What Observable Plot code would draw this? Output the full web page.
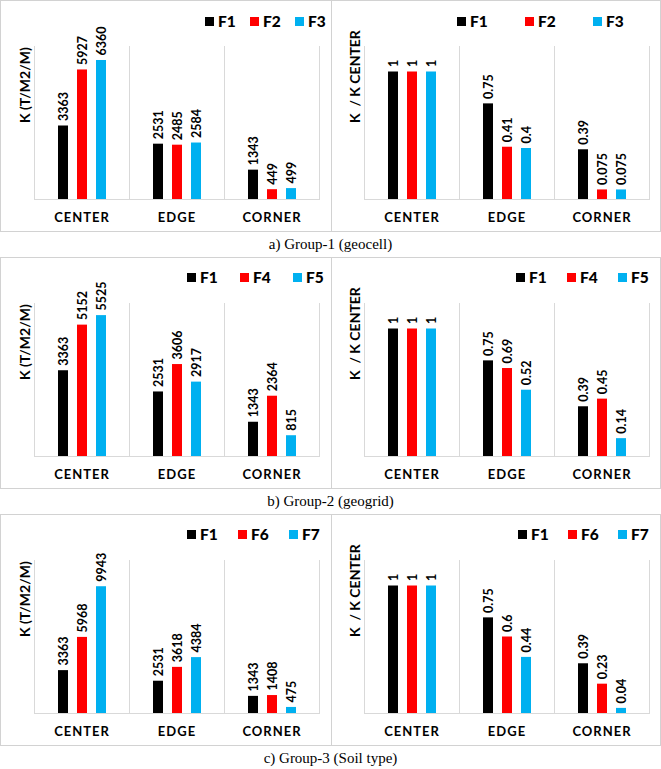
<!DOCTYPE html>
<html><head><meta charset="utf-8">
<script src="https://cdn.jsdelivr.net/npm/d3@7"></script>
<script src="https://cdn.jsdelivr.net/npm/@observablehq/plot@0.6"></script>
<style>
body{margin:0;background:#fff;width:661px;height:769px;position:relative;overflow:hidden;font-family:Lato,sans-serif}
.row{position:absolute;left:0;width:659px;height:230px;border:1px solid #d2d2d2}
.panel{position:absolute;top:0;height:230px}
.divider{position:absolute;left:330px;top:0;width:1px;height:230px;background:#d2d2d2}
.caption{position:absolute;left:0;width:661px;height:25px;line-height:25px;text-align:center;font-family:"Liberation Serif",serif;font-size:15px;color:#000}
.legend{position:absolute;display:flex;align-items:center;font-family:Lato,sans-serif;font-weight:900;font-size:15.5px;color:#000}
.legend .item{display:flex;align-items:center}
.legend .sw{width:9px;height:9px;margin-right:4px}
svg [aria-label="fx-axis tick label"] text{letter-spacing:1px}
</style>
</head><body>
<script>
const positions = ["CENTER", "EDGE", "CORNER"];
const colors = ["#000000", "#ff0000", "#00b0f0"];
const captions = ["a) Group-1 (geocell)", "b) Group-2 (geogrid)", "c) Group-3 (Soil type)"];
const yLabels = ["K (T/M2/M)", "K\u00a0 / K CENTER"];

const group1Series = ["F1", "F2", "F3"];
const group1K = [[3363, 2531, 1343], [5927, 2485, 449], [6360, 2584, 499]];
const group1Ratio = [[1, 0.75, 0.39], [1, 0.41, 0.075], [1, 0.4, 0.075]];

const group2Series = ["F1", "F4", "F5"];
const group2K = [[3363, 2531, 1343], [5152, 3606, 2364], [5525, 2917, 815]];
const group2Ratio = [[1, 0.75, 0.39], [1, 0.69, 0.45], [1, 0.52, 0.14]];

const group3Series = ["F1", "F6", "F7"];
const group3K = [[3363, 2531, 1343], [5968, 3618, 1408], [9943, 4384, 475]];
const group3Ratio = [[1, 0.75, 0.39], [1, 0.6, 0.23], [1, 0.44, 0.04]];

const kAxisMax = [7000, 6000, 12000];
const ratioAxisMax = 1.2;

const groups = [
  {series: group1Series, k: group1K, ratio: group1Ratio},
  {series: group2Series, k: group2K, ratio: group2Ratio},
  {series: group3Series, k: group3K, ratio: group3Ratio}
];

// layout (positions only)
const rowTops = [0, 257, 514];
const legendLayout = [
  [{left: 204, top: 20, step: 45}, {left: 125, top: 20, step: 68}],
  [{left: 186, top: 19, step: 53}, {left: 184, top: 19, step: 51}],
  [{left: 186, top: 19, step: 51}, {left: 186, top: 19, step: 50}]
];

function chart(series, values, yMax, yLabel, width, mLeft, mRight) {
  const data = [];
  series.forEach((s, i) => positions.forEach((p, j) => data.push({pos: p, series: s, value: values[i][j]})));
  return Plot.plot({
    width, height: 230, marginLeft: mLeft, marginRight: mRight, marginTop: 45, marginBottom: 32,
    fx: {domain: positions, paddingInner: 0, paddingOuter: 0, label: null},
    x: {domain: series, paddingInner: 0.475, paddingOuter: 1.1375, axis: null},
    y: {domain: [0, yMax], axis: null},
    color: {domain: series, range: colors},
    style: {fontFamily: "Lato, sans-serif", color: "#000", background: "transparent", overflow: "visible"},
    marks: [
      Plot.frame({anchor: "left", stroke: "#d9d9d9"}),
      Plot.frame({anchor: "right", stroke: "#d9d9d9"}),
      Plot.frame({anchor: "bottom", stroke: "#d9d9d9"}),
      Plot.barY(data, {fx: "pos", x: "series", y: "value", fill: "series"}),
      Plot.text(data, {fx: "pos", x: "series", y: "value", text: d => String(d.value), rotate: -90, textAnchor: "start", dy: -5, fontSize: 12.5, fontWeight: "bold", fill: "#000"}),
      Plot.text([{pos: positions[0]}], {fx: "pos", frameAnchor: "left", text: () => yLabel, rotate: -90, dx: -9, fontSize: 14, fontWeight: "bold", fill: "#000"}),
      Plot.axisFx({anchor: "bottom", tickSize: 0, tickPadding: 13, fontSize: 13, fontWeight: "bold", label: null})
    ]
  });
}

function legend(series, lay) {
  const div = document.createElement("div");
  div.className = "legend";
  div.style.left = lay.left + "px";
  div.style.top = lay.top + "px";
  series.forEach((s, i) => {
    const it = document.createElement("div");
    it.className = "item";
    it.style.position = "absolute";
    it.style.left = (i * lay.step) + "px";
    it.style.top = "-9px";
    it.innerHTML = `<span class="sw" style="background:${colors[i]}"></span><span>${s}</span>`;
    div.appendChild(it);
  });
  return div;
}

groups.forEach((g, r) => {
  const row = document.createElement("div");
  row.className = "row";
  row.style.top = rowTops[r] + "px";
  document.body.appendChild(row);

  const left = document.createElement("div");
  left.className = "panel"; left.style.left = "0px"; left.style.width = "330px";
  left.appendChild(chart(g.series, g.k, kAxisMax[r], yLabels[0], 330, 32, 11));
  left.appendChild(legend(g.series, legendLayout[r][0]));
  row.appendChild(left);

  const div = document.createElement("div");
  div.className = "divider";
  row.appendChild(div);

  const right = document.createElement("div");
  right.className = "panel"; right.style.left = "331px"; right.style.width = "328px";
  right.appendChild(chart(g.series, g.ratio, ratioAxisMax, yLabels[1], 328, 31, 10));
  right.appendChild(legend(g.series, legendLayout[r][1]));
  row.appendChild(right);

  const cap = document.createElement("div");
  cap.className = "caption";
  cap.style.top = (rowTops[r] + 232) + "px";
  cap.textContent = captions[r];
  document.body.appendChild(cap);
});
</script>
</body></html>
